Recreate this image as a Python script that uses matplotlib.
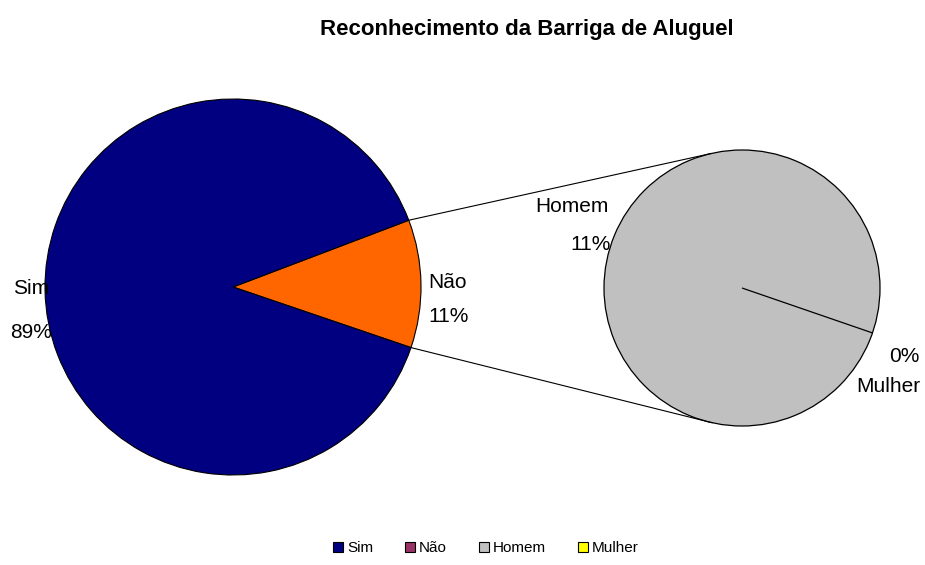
import matplotlib
matplotlib.use("Agg")
import matplotlib.pyplot as plt
from matplotlib.patches import Patch
import numpy as np

plt.rcParams['font.family'] = ['Liberation Sans', 'DejaVu Sans']

title = "Reconhecimento da Barriga de Aluguel"
main_labels = ["Sim", "Não"]
main_values = [89, 11]
sub_labels = ["Homem", "Mulher"]
sub_values = [11, 0]
sub_pct_labels = ["11%", "0%"]
legend_labels = ["Sim", "Não", "Homem", "Mulher"]
legend_colors = ["#000080", "#993366", "#C0C0C0", "#FFFF00"]

W, H = 925, 565
fig = plt.figure(figsize=(W / 100, H / 100), dpi=100)
ax = fig.add_axes([0, 0, 1, 1])

c1 = (233, H - 287)
r1 = 188
c2 = (742, H - 288)
r2 = 138

nao_frac = main_values[1] / sum(main_values)
half = nao_frac * 360 / 2
start1 = -half + 1
ax.pie(main_values[::-1], colors=["#FF6600", "#000080"], center=c1, radius=r1,
       startangle=start1, counterclock=True,
       wedgeprops=dict(edgecolor='black', linewidth=0.8), frame=True)

ax.pie(sub_values, colors=["#C0C0C0", "#FFFF00"], center=c2, radius=r2,
       startangle=-19, counterclock=True,
       wedgeprops=dict(edgecolor='black', linewidth=0.9), frame=True)
ax.set_xlim(0, W)
ax.set_ylim(0, H)
ax.set_aspect('equal')
ax.axis('off')

# connector lines
for a1, a2 in [(start1 + 2 * half, 103), (start1, -102.5)]:
    p1 = (c1[0] + r1 * np.cos(np.radians(a1)), c1[1] + r1 * np.sin(np.radians(a1)))
    p2 = (c2[0] + r2 * np.cos(np.radians(a2)), c2[1] + r2 * np.sin(np.radians(a2)))
    ax.plot([p1[0], p2[0]], [p1[1], p2[1]], color='black', lw=0.8)

fs = 15
def pct(v, tot):
    return f"{round(100 * v / tot)}%"

tot = sum(main_values)
ax.text(13, H - 288, main_labels[0], fontsize=fs, ha='left', va='center')
ax.text(10, H - 333, pct(main_values[0], tot), fontsize=fs, ha='left', va='center')
ax.text(428, H - 282, main_labels[1], fontsize=fs, ha='left', va='center')
ax.text(428, H - 316, pct(main_values[1], tot), fontsize=fs, ha='left', va='center')

ax.text(535, H - 206, sub_labels[0], fontsize=fs, ha='left', va='center')
ax.text(570, H - 245, sub_pct_labels[0], fontsize=fs, ha='left', va='center')
ax.text(920, H - 357, sub_pct_labels[1], fontsize=fs, ha='right', va='center')
ax.text(920, H - 386, sub_labels[1], fontsize=fs, ha='right', va='center')

fig.text(527 / W, 1 - 29 / H, title, fontsize=16, fontweight='bold', ha='center', va='center')

handles = [Patch(facecolor=c, edgecolor='black', linewidth=0.8) for c in legend_colors]
fig.legend(handles, legend_labels, loc='center', bbox_to_anchor=(486 / W, 1 - 548 / H),
           ncol=4, frameon=False, fontsize=11, handlelength=0.65, handleheight=0.65,
           handletextpad=0.25, columnspacing=2.1)

fig.savefig("out.png", dpi=100)
